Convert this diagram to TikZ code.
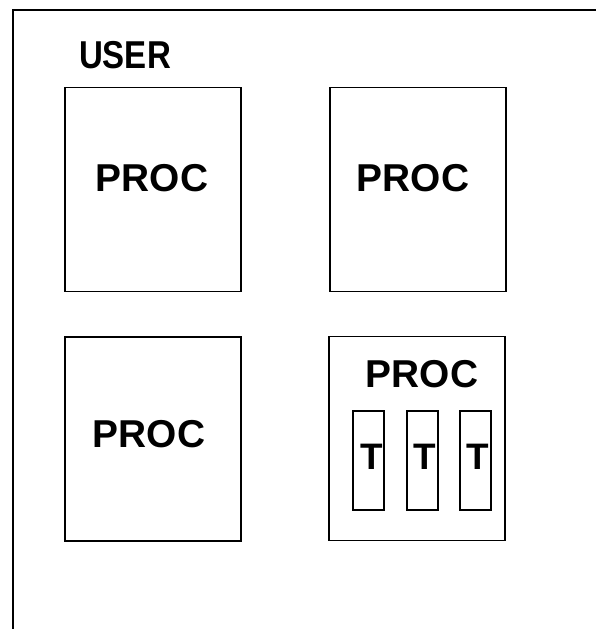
\documentclass[tikz,border=0pt]{standalone}
\usepackage{fontspec}
\setmainfont{Liberation Sans}
\begin{document}
\begin{tikzpicture}[x=1bp,y=-1bp,
  box/.style={draw,line width=1.8bp,minimum width=176bp,minimum height=204bp,inner sep=0pt},
  tbox/.style={draw,line width=1.6bp,minimum width=31bp,minimum height=99bp,inner sep=0pt},
  lbl/.style={inner sep=0pt,text depth=0pt,font=\fontsize{39}{39}\selectfont\bfseries},
  tlbl/.style={inner sep=0pt,text depth=0pt,font=\fontsize{37}{37}\selectfont\bfseries}]
\useasboundingbox (0,0) rectangle (596,629);
\fill[white] (0,0) rectangle (596,629);
\coordinate (fbl) at (13,640);
\coordinate (ftl) at (13,10);
\coordinate (ftr) at (600,10);
\draw[line width=1.8bp] (fbl) -- (ftl) -- (ftr);
\node[lbl,xscale=0.85] (user) at (125,55) {USER};
\node[box] (p1) at (153,189.5) {};
\node[box] (p2) at (418,189.5) {};
\node[box] (p3) at (153,439) {};
\node[box] (p4) at (417,438.5) {};
\node[lbl] (l1) at (152,178) {PROC};
\node[lbl] (l2) at (413,178) {PROC};
\node[lbl] (l3) at (149,434) {PROC};
\node[lbl] (l4) at (422,374) {PROC};
\node[tbox] (t1) at (368.5,460.5) {};
\node[tbox] (t2) at (422.5,460.5) {};
\node[tbox] (t3) at (475.5,460.5) {};
\node[tlbl] at (372,457) {T};
\node[tlbl] at (425,457) {T};
\node[tlbl] at (478,457) {T};
\end{tikzpicture}
\end{document}
